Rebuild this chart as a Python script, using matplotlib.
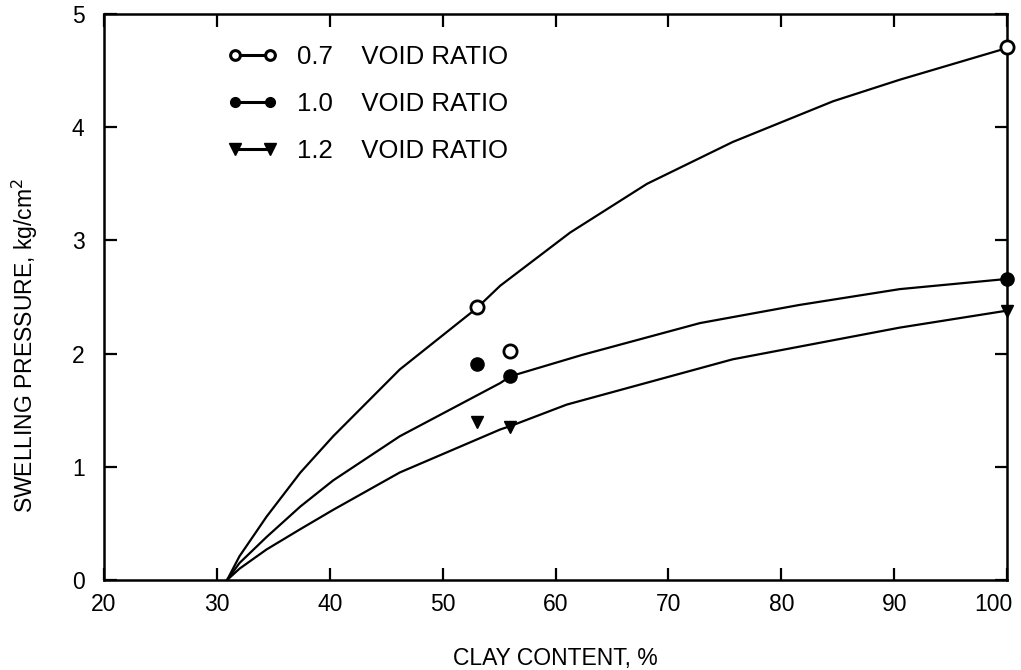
import matplotlib
matplotlib.use("Agg")
import matplotlib.pyplot as plt
from matplotlib.transforms import ScaledTranslation

plt.rcParams['font.family'] = ['Liberation Sans', 'DejaVu Sans']

# Traced curve points (clay content %, swelling pressure kg/cm2)
curve_x_07 = [30.9, 32.0, 34.4, 37.4, 40.3, 46.2, 53.0, 55.1, 61.3, 68.1, 75.7, 84.6, 90.5, 100.0]
curve_y_07 = [0.00, 0.21, 0.56, 0.95, 1.27, 1.86, 2.40, 2.60, 3.07, 3.50, 3.87, 4.23, 4.42, 4.70]

curve_x_10 = [30.9, 32.0, 34.4, 37.4, 40.3, 46.2, 55.1, 56.0, 62.4, 72.8, 81.6, 90.5, 100.0]
curve_y_10 = [0.00, 0.15, 0.38, 0.65, 0.88, 1.27, 1.74, 1.80, 1.99, 2.27, 2.43, 2.57, 2.66]

curve_x_12 = [30.9, 32.0, 34.4, 37.4, 40.3, 46.2, 55.1, 56.0, 61.0, 75.7, 90.5, 100.0]
curve_y_12 = [0.00, 0.10, 0.27, 0.45, 0.62, 0.95, 1.33, 1.36, 1.55, 1.95, 2.23, 2.38]

# Measured points
pts_x_07 = [53, 56, 100]
pts_y_07 = [2.41, 2.02, 4.71]
pts_x_10 = [53, 56, 100]
pts_y_10 = [1.91, 1.80, 2.66]
pts_x_12 = [53, 56, 100]
pts_y_12 = [1.40, 1.35, 2.38]

x_ticks = [20, 30, 40, 50, 60, 70, 80, 90, 100]
y_ticks = [0, 1, 2, 3, 4, 5]
labels = ["0.7    VOID RATIO", "1.0    VOID RATIO", "1.2    VOID RATIO"]

fig = plt.figure(figsize=(10.21, 6.70), dpi=100)
ax = fig.add_axes([0.1019, 0.1343, 0.8844, 0.8447])

lw = 1.6
ax.plot(curve_x_07, curve_y_07, color='black', lw=lw, zorder=2)
ax.plot(curve_x_10, curve_y_10, color='black', lw=lw, zorder=2)
ax.plot(curve_x_12, curve_y_12, color='black', lw=lw, zorder=2)

ax.plot(pts_x_07, pts_y_07, ls='none', marker='o', ms=9.5, mfc='white', mec='black', mew=2.0,
        zorder=3, clip_on=False)
ax.plot(pts_x_10, pts_y_10, ls='none', marker='o', ms=9.5, mfc='black', mec='black',
        zorder=3, clip_on=False)
ax.plot(pts_x_12, pts_y_12, ls='none', marker='v', ms=9, mfc='black', mec='black',
        zorder=3, clip_on=False)

# Legend handles
h1, = ax.plot([], [], color='black', lw=2.2, marker='o', ms=7, mfc='white', mec='black', mew=2.2)
h2, = ax.plot([], [], color='black', lw=2.2, marker='o', ms=7, mfc='black', mec='black')
h3, = ax.plot([], [], color='black', lw=2.2, marker='v', ms=8, mfc='black', mec='black')
leg = ax.legend([h1, h2, h3], labels, loc='upper left', bbox_to_anchor=(0.137, 0.945),
                frameon=False, numpoints=2, handlelength=1.95, handletextpad=0.75,
                labelspacing=0.9, borderpad=0, borderaxespad=0,
                prop={'family': ['Liberation Sans'], 'size': 18.5})

ax.set_xlim(20, 100)
ax.set_ylim(0, 5)
ax.set_xticks(x_ticks)
ax.set_yticks(y_ticks)
ax.tick_params(direction='in', length=9, width=1.6, top=True, right=True,
               labelsize=16.5)
ax.tick_params(axis='x', pad=9)
ax.tick_params(axis='y', pad=14)
for s in ax.spines.values():
    s.set_linewidth(1.8)

# shift the last x tick label left so it stays inside the figure
last = ax.get_xticklabels()[-1]
last.set_transform(last.get_transform() + ScaledTranslation(-0.14, 0, fig.dpi_scale_trans))

ax.set_xlabel("CLAY CONTENT, %", fontsize=16.5, labelpad=23)
ax.set_ylabel("SWELLING PRESSURE, kg/cm$^2$", fontsize=16.5)
ax.yaxis.set_label_coords(-0.071, 0.415)

fig.savefig("out.png", dpi=100)
